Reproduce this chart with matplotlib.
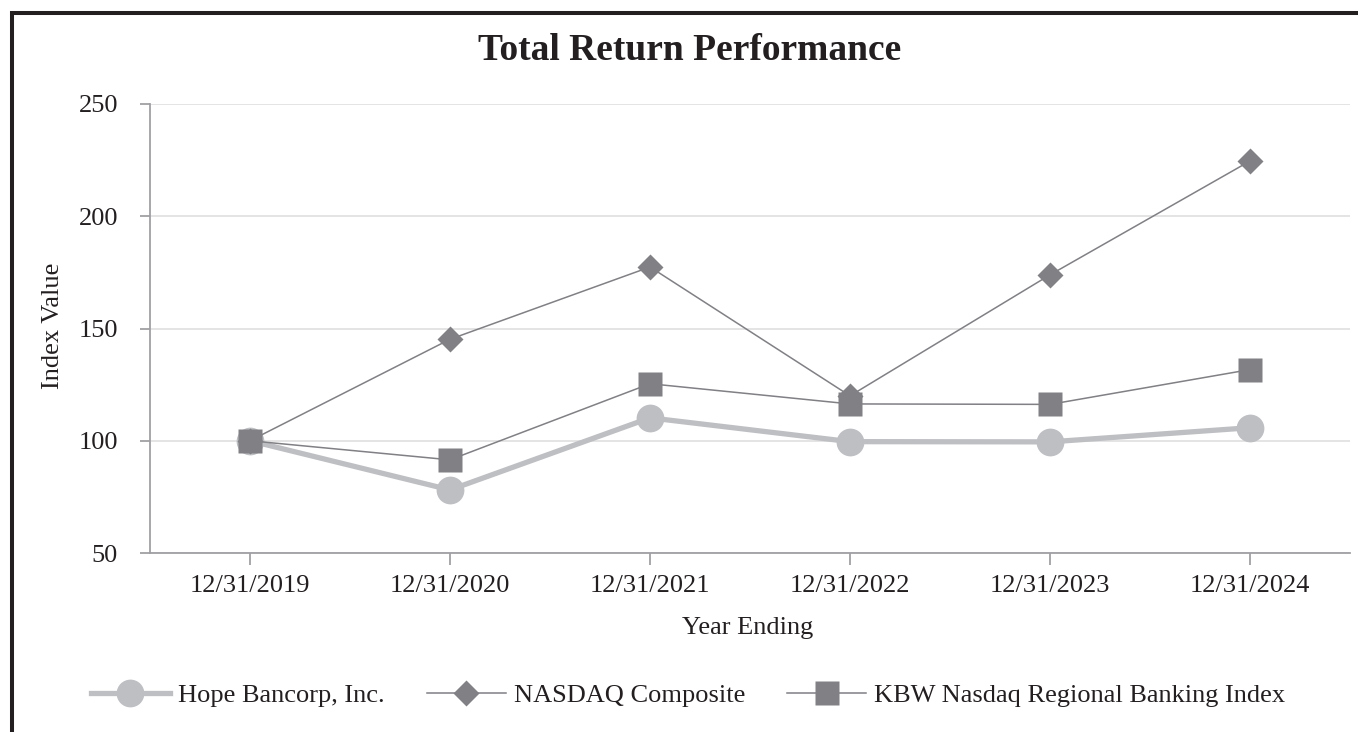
import matplotlib
matplotlib.use("Agg")
import matplotlib.pyplot as plt
from matplotlib.lines import Line2D

# ---- data ----
categories = ["12/31/2019", "12/31/2020", "12/31/2021", "12/31/2022", "12/31/2023", "12/31/2024"]
hope = [100, 78.1, 110.2, 99.6, 99.5, 105.8]
nasdaq = [100, 145.2, 177.4, 120.0, 173.9, 224.6]
kbw = [100, 91.5, 125.4, 116.4, 116.2, 131.7]
series_names = ["Hope Bancorp, Inc.", "NASDAQ Composite", "KBW Nasdaq Regional Banking Index"]
yticks = [50, 100, 150, 200, 250]

plt.rcParams['font.family'] = ['Liberation Serif', 'DejaVu Serif']
TXT = '#231F20'
LIGHT = '#BEBFC3'
DARK = '#808085'
SPINE = '#A0A0A4'
GRID = '#E2E2E2'

W, H = 1358, 732
fig = plt.figure(figsize=(W / 100, H / 100), dpi=100)
ax = fig.add_axes([150 / W, 1 - 553 / H, 1200 / W, (553 - 104) / H])

x = list(range(len(categories)))
ax.plot(x, hope, color=LIGHT, lw=3.8, marker='o', ms=20, mec='none', mfc=LIGHT,
        label=series_names[0], zorder=3)
ax.plot(x, nasdaq, color=DARK, lw=1.1, marker='D', ms=13.6, mec='none', mfc=DARK,
        label=series_names[1], zorder=4)
ax.plot(x, kbw, color=DARK, lw=1.1, marker='s', ms=17, mec='none', mfc=DARK,
        label=series_names[2], zorder=5)

ax.set_xlim(-0.5, len(categories) - 0.5)
ax.set_ylim(50, 250)
ax.set_yticks(yticks)
ax.set_xticks(x)
ax.set_xticklabels(categories)
ax.yaxis.grid(True, color=GRID, lw=1.3)
ax.set_axisbelow(True)

for s in ['top', 'right']:
    ax.spines[s].set_visible(False)
for s in ['left', 'bottom']:
    ax.spines[s].set_color(SPINE)
    ax.spines[s].set_linewidth(1.3)

ax.tick_params(axis='y', length=7.2, width=1.3, color=SPINE, pad=15.8, labelsize=19, labelcolor=TXT)
ax.tick_params(axis='x', length=8.4, width=1.3, color=SPINE, pad=7.8, labelsize=19, labelcolor=TXT)

fig.text(690 / W, 1 - 50 / H, "Total Return Performance", ha='center', va='center',
         fontsize=27, fontweight='bold', color=TXT)
fig.text(748 / W, 1 - 628 / H, "Year Ending", ha='center', va='center', fontsize=19, color=TXT)
fig.text(53 / W, 1 - 326 / H, "Index Value", ha='center', va='center', rotation=90,
         fontsize=19, color=TXT)

fig.legend(loc='center', bbox_to_anchor=(688 / W, 1 - 695 / H), ncol=3, frameon=False,
           fontsize=19, handlelength=3.0, handletextpad=0.3, columnspacing=1.6,
           labelcolor=TXT)

# outer border lines (top and left)
fig.add_artist(Line2D([10 / W, 1.0], [1 - 13 / H, 1 - 13 / H], transform=fig.transFigure,
                      color=TXT, lw=2.9, solid_capstyle='butt'))
fig.add_artist(Line2D([12 / W, 12 / W], [1 - 11 / H, 0.0], transform=fig.transFigure,
                      color=TXT, lw=2.9, solid_capstyle='butt'))

fig.savefig("out.png", dpi=100, facecolor='white')
